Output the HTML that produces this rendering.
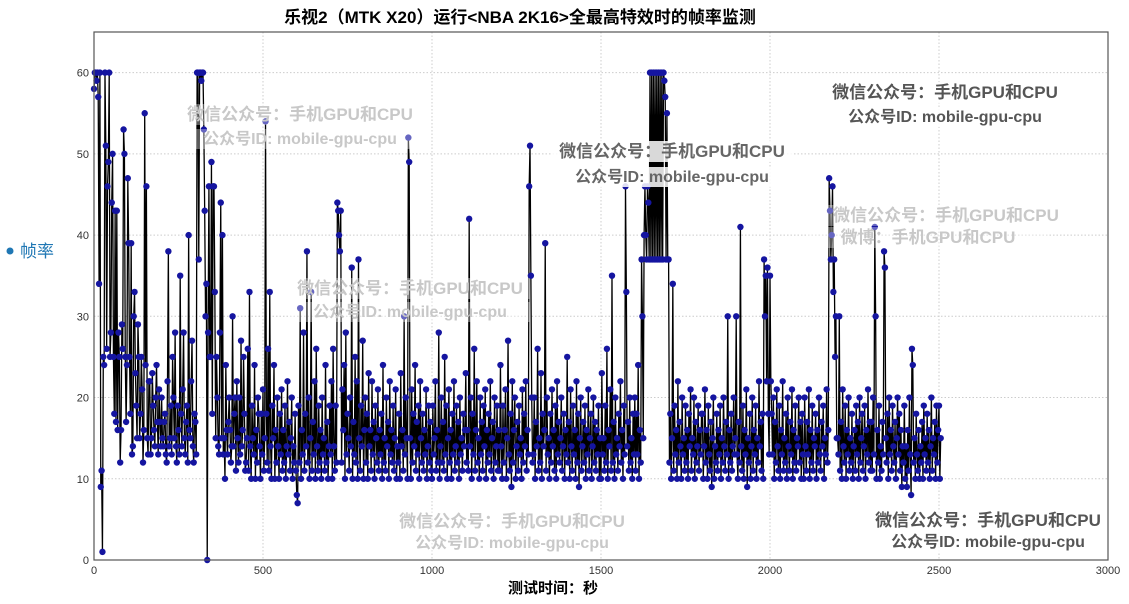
<!DOCTYPE html>
<html><head><meta charset="utf-8"><style>
body{margin:0;background:#fff;width:1129px;height:604px;overflow:hidden}
svg{display:block}
text{font-family:"Liberation Sans","Noto Sans CJK SC",sans-serif}
</style></head><body>
<svg id="c" width="1129" height="604">
<text x="520" y="23" text-anchor="middle" font-size="17" font-weight="bold">乐视2（MTK X20）运行&lt;NBA 2K16&gt;全最高特效时的帧率监测</text>
<text x="553" y="593" text-anchor="middle" font-size="15" font-weight="bold">测试时间：秒</text>
<g><circle cx="10" cy="251" r="3.5" fill="#1f77b4"/><text x="20" y="257" font-size="17" fill="#1f77b4">帧率</text></g>
<g id="grid"></g><g id="lines"></g><g id="pts"></g><g id="ticks"></g><g id="wm"></g>
<rect x="94" y="32" width="1014" height="528" fill="none" stroke="#555" stroke-width="1.2"/>
</svg>
<script>
const step = 2.5;
const fps = [
58,60,60,59,60,57,34,60,9,11,1,25,24,60,51,26,46,49,60,25,28,44,50,25,18,43,17,43,16,28,25,12,16,29,26,53,50,25,17,24,
47,39,25,18,39,13,14,30,33,23,19,15,29,25,15,18,25,21,12,16,55,24,46,15,13,22,22,13,15,23,19,16,14,20,24,17,13,21,17,14,
20,15,14,17,18,13,12,22,38,14,15,19,13,25,20,15,28,14,12,19,16,13,35,18,14,21,28,15,13,17,19,12,40,16,15,22,27,14,12,18,
17,13,60,60,37,60,60,59,60,60,53,43,30,34,0,28,46,25,25,49,18,46,46,33,15,25,20,14,13,28,44,15,40,13,15,10,24,16,13,17,
20,16,12,14,30,14,18,20,11,22,15,12,20,13,27,14,16,25,18,11,12,15,26,11,33,14,10,19,15,13,24,10,16,12,20,18,14,10,18,13,
21,11,15,54,18,12,26,11,33,14,10,19,15,24,10,16,12,20,14,10,18,13,21,11,16,12,19,10,14,22,13,17,11,15,20,10,14,12,18,11,
8,7,19,12,31,10,16,13,28,11,18,14,38,12,20,10,15,33,11,17,13,22,10,26,14,11,19,12,16,10,20,13,15,11,24,12,17,10,14,19,
13,22,10,26,14,11,19,12,44,43,40,38,43,12,21,16,24,10,28,13,18,15,11,20,14,36,10,17,13,25,12,22,10,37,15,11,19,14,27,10,
16,20,12,18,10,23,14,16,11,22,13,17,10,19,15,12,21,11,16,13,18,10,24,12,15,11,20,14,17,10,22,13,16,12,19,11,15,21,10,14,
12,18,10,23,14,16,11,30,13,20,15,10,52,49,15,10,21,12,18,14,24,11,17,13,19,10,22,15,12,18,11,16,13,21,10,14,19,12,17,11,
10,19,13,15,22,11,16,12,28,10,14,20,12,17,11,25,13,19,10,15,21,12,16,10,18,13,22,11,14,19,12,17,10,20,13,15,11,18,14,16,
23,12,16,11,42,14,20,10,18,13,26,11,16,22,12,15,10,20,13,17,11,19,14,21,10,16,12,18,13,22,11,15,17,10,20,12,14,19,11,16,
11,24,14,10,19,12,16,21,10,15,27,13,11,18,9,22,12,16,20,10,14,17,11,19,13,15,10,21,12,18,14,22,11,16,13,46,51,35,20,12,
13,20,10,17,14,26,11,15,12,23,10,18,14,16,39,11,20,13,15,10,18,12,21,14,16,11,19,10,22,13,17,12,15,20,11,14,18,10,16,13,
25,12,17,10,21,14,11,19,13,16,10,22,12,18,9,15,20,11,14,17,12,19,10,16,13,21,11,15,18,10,14,20,12,17,11,16,13,19,10,15,
10,23,13,15,11,19,12,26,10,16,14,21,11,35,12,17,10,20,13,15,11,18,14,22,12,16,10,19,13,46,33,14,17,11,20,12,15,10,18,13,
20,11,18,13,24,10,16,12,37,30,15,40,46,40,37,46,44,37,60,37,60,37,60,37,60,37,60,37,60,37,60,37,60,37,60,59,57,37,55,37,
37,12,18,10,15,34,11,19,13,16,10,22,12,17,14,10,20,13,15,11,19,12,16,10,18,14,21,11,15,13,20,10,17,12,14,19,11,16,13,18,
18,10,14,21,12,16,10,19,13,11,17,9,15,20,10,14,12,18,11,16,13,19,10,15,12,20,14,11,17,13,30,10,16,12,18,11,14,20,13,15,
30,13,10,17,12,41,14,11,19,10,16,13,21,9,15,12,18,10,14,20,11,16,13,19,10,15,12,22,14,17,11,18,10,37,30,35,22,36,18,13,
35,22,18,13,20,10,17,12,21,14,11,19,10,16,13,22,11,15,12,18,10,20,14,11,17,13,21,10,16,12,19,11,15,14,20,12,17,10,18,13,
10,20,14,11,17,13,21,10,16,12,19,11,15,14,18,10,16,12,20,13,11,17,14,19,10,15,13,21,12,16,47,43,37,40,46,33,37,25,30,15,
15,13,30,11,17,10,21,14,12,19,10,16,13,20,11,15,12,18,10,14,16,11,19,13,17,10,20,12,15,18,11,14,19,10,16,13,21,12,17,11,
17,11,20,13,41,30,10,16,12,19,10,14,11,17,13,38,36,15,12,18,10,20,13,16,11,19,14,12,17,10,15,20,13,18,11,16,9,14,12,19,
10,14,9,16,11,20,13,8,26,24,12,15,10,18,13,11,16,10,14,12,17,10,19,13,15,11,18,12,16,10,14,20,11,15,13,17,10,19,12,16,
19,10,15];
const xTicks = [0,500,1000,1500,2000,2500,3000];
const yTicks = [0,10,20,30,40,50,60];
const NS="http://www.w3.org/2000/svg";
const X0=94,X1=1108,Y0=560,Y1=32,XMAX=3000,YMAX=65;
const sx=t=>X0+(X1-X0)*t/XMAX, sy=v=>Y0-(Y0-Y1)*v/YMAX;
function mk(tag,attrs,parent){const e=document.createElementNS(NS,tag);for(const k in attrs)e.setAttribute(k,attrs[k]);document.getElementById(parent).appendChild(e);return e;}
xTicks.forEach(t=>{
  const g=mk('line',{x1:sx(t),x2:sx(t),y1:Y1,y2:Y0,stroke:'#ccc','stroke-dasharray':'1.5,2'},'grid');
  
  
  const l=mk('text',{x:sx(t),y:Y0+14,'text-anchor':'middle','font-size':'11',fill:'#333'},'ticks');
  l.textContent=t;
  
  
});
yTicks.forEach(v=>{
  const g=mk('line',{x1:X0,x2:X1,y1:sy(v),y2:sy(v),stroke:'#ccc','stroke-dasharray':'1.5,2'},'grid');
  
  
  const l=mk('text',{x:X0-5,y:sy(v)+4,'text-anchor':'end','font-size':'11',fill:'#333'},'ticks');
  l.textContent=v;
  
  
});
let d='';
fps.forEach((v,i)=>{d+=(i?'L':'M')+sx(i*step).toFixed(2)+','+sy(v).toFixed(2);});
const p=mk('path',{d:d,fill:'none',stroke:'#000','stroke-width':'1.3'},'lines');


fps.forEach((v,i)=>{
  const c=mk('circle',{cx:sx(i*step),cy:sy(v),r:3.2,fill:'#1515a0'},'pts');
  
  
});
const wms=[[300,120,'微信公众号：手机GPU和CPU','#c8c8c8',17],[300,144,'公众号ID: mobile-gpu-cpu','#c8c8c8',16],
[672,157,'微信公众号：手机GPU和CPU','#666',17],[672,182,'公众号ID: mobile-gpu-cpu','#666',16],
[945,98,'微信公众号：手机GPU和CPU','#555',17],[945,122,'公众号ID: mobile-gpu-cpu','#555',16],
[410,294,'微信公众号：手机GPU和CPU','#c8c8c8',17],[410,317,'公众号ID: mobile-gpu-cpu','#c8c8c8',16],
[946,221,'微信公众号：手机GPU和CPU','#c8c8c8',17],[928,243,'微博：手机GPU和CPU','#c8c8c8',17],
[512,527,'微信公众号：手机GPU和CPU','#c8c8c8',17],[512,548,'公众号ID: mobile-gpu-cpu','#c8c8c8',16],
[988,526,'微信公众号：手机GPU和CPU','#555',17],[988,547,'公众号ID: mobile-gpu-cpu','#555',16]];
wms.forEach(w=>{
  const bg=mk('rect',{x:w[0]-120,y:w[1]-w[4]+1,width:240,height:w[4]+4,fill:'#fff','fill-opacity':w[3]=='#c8c8c8'?0.35:0.85},'wm');
  
  
  const t=mk('text',{x:w[0],y:w[1],'text-anchor':'middle','font-size':w[4],'font-weight':'bold',fill:w[3]},'wm');
  t.textContent=w[2];
  
  
});
</script>
</body></html>
